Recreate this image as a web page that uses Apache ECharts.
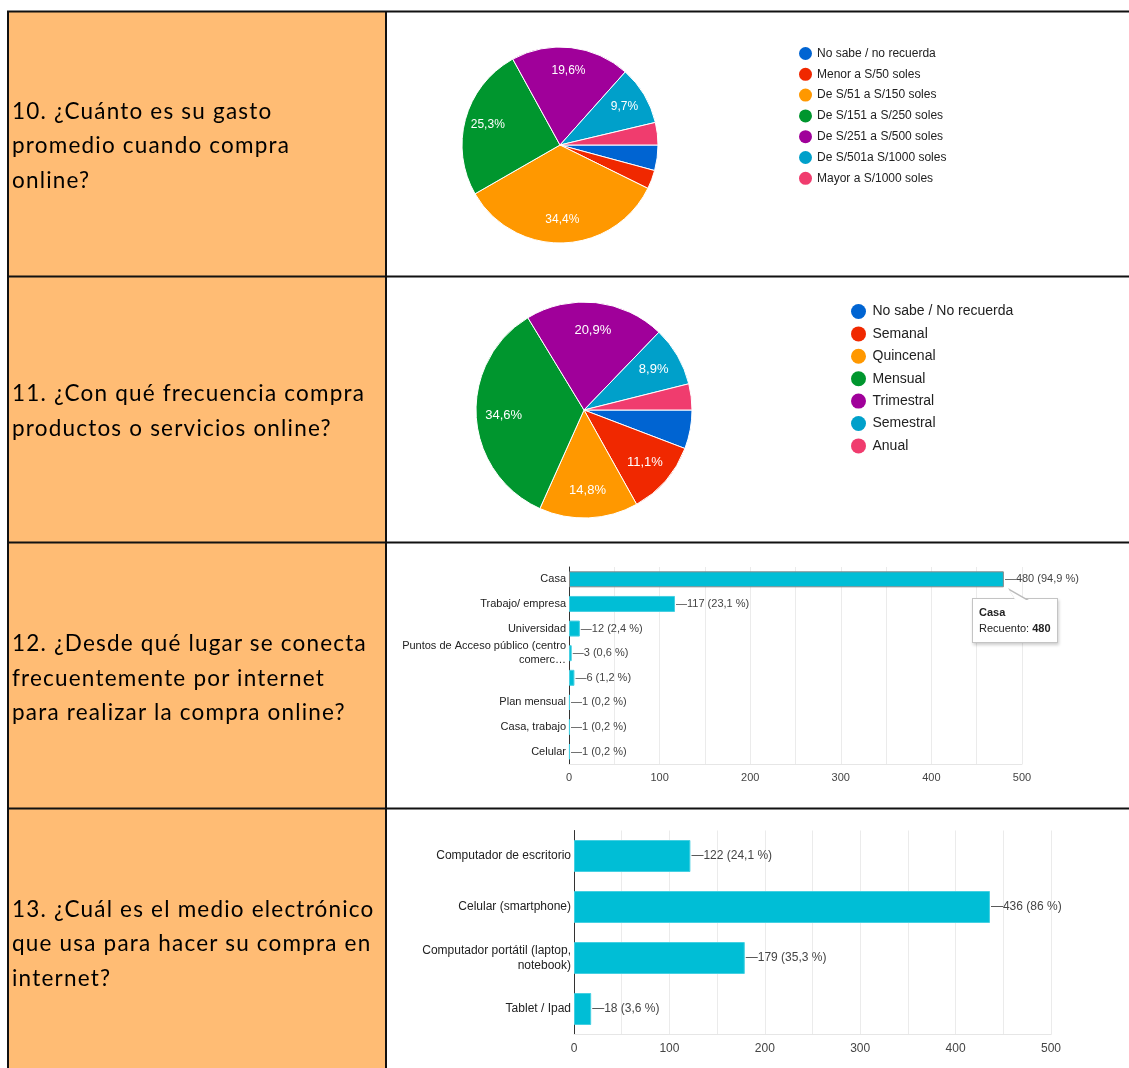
<!DOCTYPE html>
<html>
<head>
<meta charset="utf-8">
<script src="https://cdn.jsdelivr.net/npm/echarts@6/dist/echarts.min.js"></script>
<style>
  body { margin: 0; background: #fff; }
  #wrap { position: relative; width: 1129px; height: 1068px; }
  #main { width: 1129px; height: 1068px; }
  .q { position: absolute; left: 12px; font-family: Lato, sans-serif; font-size: 22.5px; letter-spacing: 1.2px;
    line-height: 34.5px; color: #000; white-space: pre; z-index: 5; }
  .gtip::before, .gtip::after { content: ''; position: absolute; }
  .gtip::before { left: 35px; top: -11px; width: 21px; height: 12px; background: #bbb;
    clip-path: polygon(0 0, 100% 100%, 35% 100%); }
  .gtip::after { left: 36.5px; top: -8.6px; width: 17.5px; height: 10px; background: #fff;
    clip-path: polygon(0 0, 100% 100%, 35% 100%); }
</style>
</head>
<body>
<div id="wrap"><div id="main"></div></div>
<script>
// preguntas (columna izquierda)
const questions = [
  '10. ¿Cuánto es su gasto\npromedio cuando compra\nonline?',
  '11. ¿Con qué frecuencia compra\nproductos o servicios online?',
  '12. ¿Desde qué lugar se conecta\nfrecuentemente por internet\npara realizar la compra online?',
  '13. ¿Cuál es el medio electrónico\nque usa para hacer su compra en\ninternet?'
]

const sliceColors = ['#0064d2', '#f02800', '#ff9800', '#00962e', '#a0009a', '#00a0ca', '#f03c6e']

// pregunta 10
const pie1Names = ['No sabe / no recuerda', 'Menor a S/50 soles', 'De S/51 a S/150 soles', 'De S/151 a S/250 soles',
  'De S/251 a S/500 soles', 'De S/501a S/1000 soles', 'Mayor a S/1000 soles']
const pie1Values = [4.2, 3.1, 34.4, 25.3, 19.6, 9.7, 3.7]

// pregunta 11
const pie2Names = ['No sabe / No recuerda', 'Semanal', 'Quincenal', 'Mensual', 'Trimestral', 'Semestral', 'Anual']
const pie2Values = [5.8, 11.1, 14.8, 34.6, 20.9, 8.9, 3.9]

// pregunta 12
const q12Cats = ['Casa', 'Trabajo/ empresa', 'Universidad', 'Puntos de Acceso público (centro\ncomerc…', '',
  'Plan mensual', 'Casa, trabajo', 'Celular']
const q12Values = [480, 117, 12, 3, 6, 1, 1, 1]
const q12Pct = [94.9, 23.1, 2.4, 0.6, 1.2, 0.2, 0.2, 0.2]

// pregunta 13
const q13Cats = ['Computador de escritorio', 'Celular (smartphone)', 'Computador portátil (laptop,\nnotebook)', 'Tablet / Ipad']
const q13Values = [122, 436, 179, 18]
const q13Pct = [24.1, 86, 35.3, 3.6]

const xTicks = [0, 100, 200, 300, 400, 500]

const comma = v => String(v).replace('.', ',')
const FONT = 'Liberation Sans, Arial, sans-serif'

// textos de las preguntas, centrados en cada fila
const questionY = [145.5, 410.5, 678, 943.5]
questions.forEach((q, i) => {
  const d = document.createElement('div')
  d.className = 'q'
  d.textContent = q
  d.style.top = (questionY[i] - q.split('\n').length * 34.5 / 2) + 'px'
  document.getElementById('wrap').appendChild(d)
})

const chart = echarts.init(document.getElementById('main'))

function pieData(names, values) {
  return names.map((n, i) => ({ name: n, value: values[i], itemStyle: { color: sliceColors[i] } }))
}
function pieLabels(names, values) {
  return names.map((n, i) => ({ name: n, value: values[i] }))
}
function pieLabelFmt(p) {
  return p.value >= 8 ? comma(p.value) + '%' : ''
}

function barSeries(values, pct, xi, bw, fs) {
  return {
    type: 'bar',
    xAxisIndex: xi,
    yAxisIndex: xi,
    barWidth: bw,
    silent: true,
    data: values.map((v, i) => (xi === 0 && i === 0)
      ? { value: v, itemStyle: { borderColor: '#8a8a8a', borderWidth: 1 } } : v),
    itemStyle: { color: '#00bed6', borderColor: '#45d0e2', borderWidth: 1 },
    label: {
      show: true,
      position: 'right',
      distance: 1,
      color: '#444',
      fontSize: fs,
      fontFamily: FONT,
      formatter: p => '—' + p.value + ' (' + comma(pct[p.dataIndex]) + ' %)'
    }
  }
}

function valueAxis(gi, fs) {
  return {
    gridIndex: gi,
    type: 'value',
    min: 0,
    max: 500,
    interval: 50,
    axisLine: { show: true, lineStyle: { color: '#e6e6e6' } },
    axisTick: { show: false },
    splitLine: { lineStyle: { color: '#ebebeb' } },
    axisLabel: {
      color: '#444',
      fontSize: fs,
      fontFamily: FONT,
      margin: 8,
      formatter: v => xTicks.indexOf(v) >= 0 ? v : ''
    }
  }
}

function catAxis(gi, cats, fs) {
  return {
    gridIndex: gi,
    type: 'category',
    inverse: true,
    data: cats,
    axisLine: { show: true, lineStyle: { color: '#333' } },
    axisTick: { show: false },
    axisLabel: { color: '#222', fontSize: fs, fontFamily: FONT, margin: 3, lineHeight: fs + 3, align: 'right' }
  }
}

const tableLines = [
  { x1: 8, y1: 11, x2: 8, y2: 1068 },
  { x1: 386, y1: 11, x2: 386, y2: 1068 },
  { x1: 7, y1: 11.5, x2: 1129, y2: 11.5 },
  { x1: 7, y1: 276.5, x2: 1129, y2: 276.5 },
  { x1: 7, y1: 542.5, x2: 1129, y2: 542.5 },
  { x1: 7, y1: 808.5, x2: 1129, y2: 808.5 }
]

chart.setOption({
  animation: false,
  textStyle: { fontFamily: FONT },
  graphic: [
    { type: 'rect', z: -10, silent: true, shape: { x: 8, y: 12, width: 378, height: 1056 }, style: { fill: '#ffbc74' } }
  ].concat(tableLines.map(l => ({
    type: 'line', z: 20, silent: true, shape: l, style: { stroke: '#111', lineWidth: 2 }
  }))),
  tooltip: {
    show: true,
    trigger: 'item',
    triggerOn: 'none',
    alwaysShowContent: true,
    transitionDuration: 0,
    className: 'gtip',
    position: [972, 598],
    backgroundColor: '#fff',
    borderColor: '#c4c4c4',
    borderWidth: 1,
    padding: [5, 6, 6, 6],
    extraCssText: 'border-radius:0;box-shadow:1px 2px 3px rgba(0,0,0,0.2);',
    textStyle: { fontSize: 11, color: '#222', fontFamily: FONT, lineHeight: 16 },
    formatter: p => '<b>' + p.name + '</b><br/>Recuento: <b>' + p.value + '</b>'
  },
  legend: [
    {
      data: pie1Names, orient: 'vertical', left: 794, top: 42, icon: 'circle',
      itemWidth: 13, itemHeight: 13, itemGap: 7.8, selectedMode: false,
      itemStyle: { borderWidth: 0 },
      textStyle: { fontSize: 12, color: '#222', fontFamily: FONT, padding: 0 }
    },
    {
      data: pie2Names, orient: 'vertical', left: 846, top: 299, icon: 'circle',
      itemWidth: 18, itemHeight: 15, itemGap: 7.4, selectedMode: false,
      itemStyle: { borderWidth: 0 },
      textStyle: { fontSize: 14, color: '#222', fontFamily: FONT, padding: 0 }
    }
  ],
  grid: [
    { left: 569, top: 567, width: 453, height: 197 },
    { left: 574, top: 830.5, width: 477, height: 204 }
  ],
  xAxis: [valueAxis(0, 11), valueAxis(1, 12)],
  yAxis: [catAxis(0, q12Cats, 11), catAxis(1, q13Cats, 12)],
  series: [
    {
      type: 'pie', center: [560, 145], radius: [0, 98], startAngle: 0, silent: true,
      label: { show: false }, labelLine: { show: false },
      itemStyle: { borderColor: '#fff', borderWidth: 1 },
      data: pieData(pie1Names, pie1Values)
    },
    {
      type: 'pie', center: [560, 145], radius: [46, 98], startAngle: 0, silent: true,
      itemStyle: { color: 'rgba(0,0,0,0)' },
      label: { show: true, position: 'inside', color: '#fff', fontSize: 12, fontFamily: FONT, formatter: pieLabelFmt },
      data: pieLabels(pie1Names, pie1Values)
    },
    {
      type: 'pie', center: [584, 410], radius: [0, 108], startAngle: 0, silent: true,
      label: { show: false }, labelLine: { show: false },
      itemStyle: { borderColor: '#fff', borderWidth: 1 },
      data: pieData(pie2Names, pie2Values)
    },
    {
      type: 'pie', center: [584, 410], radius: [47, 108], startAngle: 0, silent: true,
      itemStyle: { color: 'rgba(0,0,0,0)' },
      label: { show: true, position: 'inside', color: '#fff', fontSize: 13, fontFamily: FONT, formatter: pieLabelFmt },
      data: pieLabels(pie2Names, pie2Values)
    },
    barSeries(q12Values, q12Pct, 0, 16, 11),
    barSeries(q13Values, q13Pct, 1, 32, 12)
  ]
})

chart.dispatchAction({ type: 'showTip', seriesIndex: 4, dataIndex: 0 })
</script>
</body>
</html>
